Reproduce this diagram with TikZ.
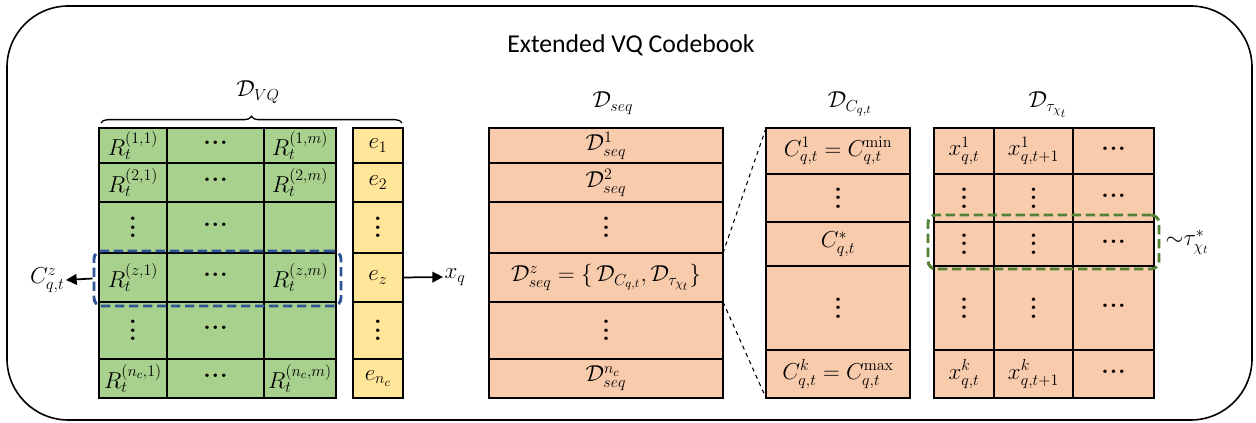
\documentclass[tikz,border=0pt]{standalone}
\usepackage[no-math]{fontspec}
\newfontfamily\titlefont{Carlito}
\usetikzlibrary{arrows.meta,decorations.pathreplacing}
\definecolor{gfill}{HTML}{A9D18E}
\definecolor{yfill}{HTML}{FFE699}
\definecolor{ofill}{HTML}{F8CBAD}
\definecolor{bdash}{HTML}{2F5597}
\definecolor{gdash}{HTML}{548235}
\newcommand{\cellbox}[7]{%
  \pgfmathsetmacro\cx{(#3+#5)/2}\pgfmathsetmacro\cy{(#4+#6)/2}%
  \pgfmathsetmacro\cw{(#5-#3)*0.75}\pgfmathsetmacro\ch{(#6-#4)*0.75}%
  \node[#1, minimum width=\cw pt, minimum height=\ch pt] (#2) at (\cx,\cy) {#7};}
\newcommand{\vd}{\vbox{\baselineskip6.5pt\lineskiplimit0pt\hbox{\bfseries .}\hbox{\bfseries .}\hbox{\bfseries .}}}
\newcommand{\cd}{\raisebox{0.22em}{\bfseries .\kern0.6pt.\kern0.6pt.}}
\tikzset{
  cellbase/.style={draw=black, line width=1.5pt, inner sep=0pt, outer sep=0pt, font=\fontsize{18}{20}\selectfont},
  gcell/.style={cellbase, fill=gfill},
  ycell/.style={cellbase, fill=yfill},
  ocell/.style={cellbase, fill=ofill},
  bluebox/.style={draw=bdash, line width=2.2pt, dash pattern=on 7pt off 3.5pt, rounded corners=6pt, inner sep=0pt},
  greenbox/.style={draw=gdash, line width=2.2pt, dash pattern=on 7pt off 3.5pt, rounded corners=6pt, inner sep=0pt},
  lbl/.style={font=\fontsize{18}{20}\selectfont, inner sep=1pt},
  arr/.style={line width=1.3pt, -{Triangle[length=8pt,width=8pt]}},
  zoomline/.style={line width=0.8pt, dashed},
}
\begin{document}
\begin{tikzpicture}[x=0.75pt, y=-0.75pt]
\useasboundingbox (0,0) rectangle (1256,423);
% outer frame
\draw[line width=1.2pt, rounded corners=46pt] (7,6) rectangle (1252,420);
\node[font=\titlefont\fontsize{19.3}{21}\selectfont, anchor=base] (title) at (631,53) {Extended VQ Codebook};
% green grid
\cellbox{gcell}{g11}{99}{128}{167}{163}{$R_t^{(1,1)}$}
\cellbox{gcell}{g12}{167}{128}{264}{163}{\cd}
\cellbox{gcell}{g13}{264}{128}{336}{163}{$R_t^{(1,m)}$}
\cellbox{gcell}{g21}{99}{163}{167}{202}{$R_t^{(2,1)}$}
\cellbox{gcell}{g22}{167}{163}{264}{202}{\cd}
\cellbox{gcell}{g23}{264}{163}{336}{202}{$R_t^{(2,m)}$}
\cellbox{gcell}{g31}{99}{202}{167}{253}{\vd}
\cellbox{gcell}{g32}{167}{202}{264}{253}{\cd}
\cellbox{gcell}{g33}{264}{202}{336}{253}{}
\cellbox{gcell}{g41}{99}{253}{167}{302}{$R_t^{(z,1)}$}
\cellbox{gcell}{g42}{167}{253}{264}{302}{\cd}
\cellbox{gcell}{g43}{264}{253}{336}{302}{$R_t^{(z,m)}$}
\cellbox{gcell}{g51}{99}{302}{167}{359}{\vd}
\cellbox{gcell}{g52}{167}{302}{264}{359}{\cd}
\cellbox{gcell}{g53}{264}{302}{336}{359}{}
\cellbox{gcell}{g61}{99}{359}{167}{398}{$R_t^{(n_c,1)}$}
\cellbox{gcell}{g62}{167}{359}{264}{398}{\cd}
\cellbox{gcell}{g63}{264}{359}{336}{398}{$R_t^{(n_c,m)}$}
% yellow column
\cellbox{ycell}{y1}{353}{128}{403}{163}{$e_1$}
\cellbox{ycell}{y2}{353}{163}{403}{202}{$e_2$}
\cellbox{ycell}{y3}{353}{202}{403}{253}{\vd}
\cellbox{ycell}{y4}{353}{253}{403}{302}{$e_z$}
\cellbox{ycell}{y5}{353}{302}{403}{359}{\vd}
\cellbox{ycell}{y6}{353}{359}{403}{398}{$e_{n_c}$}
% brace
\coordinate (bl) at (101,123);
\coordinate (br) at (402,123);
\draw[line width=1pt, decorate, decoration={brace, amplitude=5pt}] (bl) -- (br);
\node[lbl, anchor=base] (dvq) at (258,97) {$\mathcal{D}_{VQ}$};
% blue dashed box
\cellbox{bluebox}{zrow}{94}{251}{341}{306}{}
\node[lbl, anchor=east] (cz) at (66,280) {$C_{q,t}^{z}$};
\draw[arr] (zrow.west) -- (cz.east);
\node[lbl, anchor=west] (xq) at (443,277) {$x_q$};
\draw[arr] (y4.east) -- (xq.west);
% seq column
\node[lbl, anchor=base] (dseq) at (613,108) {$\mathcal{D}_{seq}$};
\cellbox{ocell}{s1}{489}{128}{723}{163}{$\mathcal{D}_{seq}^{1}$}
\cellbox{ocell}{s2}{489}{163}{723}{202}{$\mathcal{D}_{seq}^{2}$}
\cellbox{ocell}{s3}{489}{202}{723}{253}{\vd}
\cellbox{ocell}{s4}{489}{253}{723}{302}{$\mathcal{D}_{seq}^{z}=\{\,\mathcal{D}_{C_{q,t}},\mathcal{D}_{\tau_{\chi_t}}\}$}
\cellbox{ocell}{s5}{489}{302}{723}{359}{\vd}
\cellbox{ocell}{s6}{489}{359}{723}{398}{$\mathcal{D}_{seq}^{n_c}$}
% C column
\node[lbl, anchor=base] (dc) at (850,108) {$\mathcal{D}_{C_{q,t}}$};
\cellbox{ocell}{c1}{766}{128}{910}{174}{$C_{q,t}^{1}=C_{q,t}^{\min}$}
\cellbox{ocell}{c2}{766}{174}{910}{222}{\vd}
\cellbox{ocell}{c3}{766}{222}{910}{266}{$C_{q,t}^{*}$}
\cellbox{ocell}{c4}{766}{266}{910}{350}{\vd}
\cellbox{ocell}{c5}{766}{350}{910}{398}{$C_{q,t}^{k}=C_{q,t}^{\max}$}
\draw[zoomline] (s4.north east) -- (c1.north west);
\draw[zoomline] (s4.south east) -- (c5.south west);
% tau grid
\node[lbl, anchor=base] (dtau) at (1048,108) {$\mathcal{D}_{\tau_{\chi_t}}$};
\cellbox{ocell}{t11}{934}{128}{994}{174}{$x_{q,t}^{1}$}
\cellbox{ocell}{t12}{994}{128}{1073}{174}{$x_{q,t+1}^{1}$}
\cellbox{ocell}{t13}{1073}{128}{1154}{174}{\cd}
\cellbox{ocell}{t21}{934}{174}{994}{222}{\vd}
\cellbox{ocell}{t22}{994}{174}{1073}{222}{\vd}
\cellbox{ocell}{t23}{1073}{174}{1154}{222}{\cd}
\cellbox{ocell}{t31}{934}{222}{994}{266}{\vd}
\cellbox{ocell}{t32}{994}{222}{1073}{266}{\vd}
\cellbox{ocell}{t33}{1073}{222}{1154}{266}{\cd}
\cellbox{ocell}{t41}{934}{266}{994}{350}{\vd}
\cellbox{ocell}{t42}{994}{266}{1073}{350}{\vd}
\cellbox{ocell}{t43}{1073}{266}{1154}{350}{\cd}
\cellbox{ocell}{t51}{934}{350}{994}{398}{$x_{q,t}^{k}$}
\cellbox{ocell}{t52}{994}{350}{1073}{398}{$x_{q,t+1}^{k}$}
\cellbox{ocell}{t53}{1073}{350}{1154}{398}{\cd}
\cellbox{greenbox}{trow}{928}{215}{1159}{269}{}
\node[lbl, anchor=west] (tstar) at (1164,242) {${\sim}\tau_{\chi_t}^{*}$};
\end{tikzpicture}
\end{document}
